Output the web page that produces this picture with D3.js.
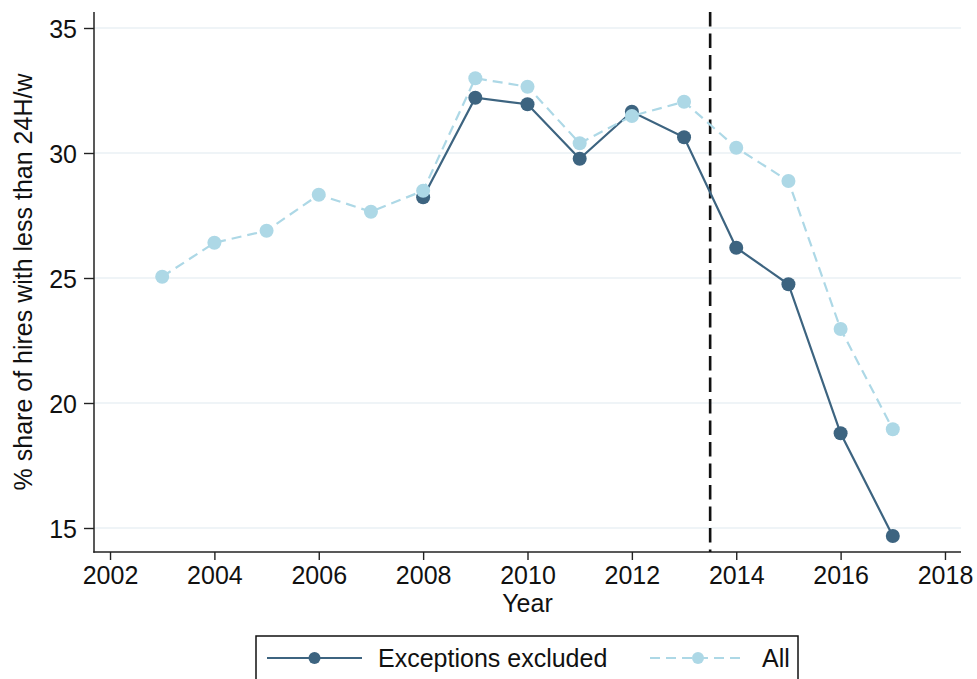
<!DOCTYPE html>
<html>
<head>
<meta charset="utf-8">
<script src="https://cdn.jsdelivr.net/npm/d3@7"></script>
<style>
  html, body { margin: 0; padding: 0; background: #fff; }
  svg { display: block; font-family: "Liberation Sans", Arial, Helvetica, sans-serif; }
</style>
</head>
<body>
<svg id="chart" width="977" height="679"></svg>
<script>
// ---- data ----
const yearsExcl = [2008, 2009, 2010, 2011, 2012, 2013, 2014, 2015, 2016, 2017];
const valuesExcl = [28.23, 32.21, 31.95, 29.77, 31.65, 30.63, 26.21, 24.75, 18.79, 14.68];
const yearsAll = [2003, 2004, 2005, 2006, 2007, 2008, 2009, 2010, 2011, 2012, 2013, 2014, 2015, 2016, 2017];
const valuesAll = [25.05, 26.41, 26.89, 28.33, 27.65, 28.49, 32.99, 32.65, 30.39, 31.48, 32.05, 30.21, 28.88, 22.96, 18.95];
const xTicks = [2002, 2004, 2006, 2008, 2010, 2012, 2014, 2016, 2018];
const yTicks = [15, 20, 25, 30, 35];
const reformYear = [2013.5];
const seriesNames = ["Exceptions excluded", "All"];
const xTitle = "Year";
const yTitle = "% share of hires with less than 24H/w";

(function () {
// ---- layout ----
const svg = d3.select("#chart");
const pL = 94, pR = 961, pT = 12, pB = 552;
const x = d3.scaleLinear().domain([2001.693, 2018.307]).range([pL, pR]);
const y = d3.scaleLinear().domain([14.04, 35.64]).range([pB, pT]);

const darkCol = "#3d6480";
const lightCol = "#add8e6";
const fontSize = 25;

// gridlines
svg.append("g").selectAll("line").data(yTicks).join("line")
  .attr("x1", pL).attr("x2", pR)
  .attr("y1", d => y(d)).attr("y2", d => y(d))
  .attr("stroke", "#eaf1f4").attr("stroke-width", 1.6);

// axes
const yAxis = d3.axisLeft(y).tickValues(yTicks).tickSize(10).tickPadding(7);
const gy = svg.append("g").attr("transform", `translate(${pL},0)`).call(yAxis);
const xAxis = d3.axisBottom(x).tickValues(xTicks).tickFormat(d3.format("d")).tickSize(8).tickPadding(6);
const gx = svg.append("g").attr("transform", `translate(0,${pB})`).call(xAxis);
[gx, gy].forEach(g => {
  g.select(".domain").remove();
  g.selectAll(".tick line").attr("stroke", "#222").attr("stroke-width", 1.4);
  g.selectAll(".tick text").attr("fill", "#111").style("font-size", fontSize + "px")
    .style("font-family", '"Liberation Sans", Arial, sans-serif');
});
gy.selectAll(".tick text").attr("dy", "0.36em");
gx.selectAll(".tick text").attr("dy", "0.71em");
// axis lines
svg.append("line").attr("x1", pL).attr("x2", pL).attr("y1", pT).attr("y2", pB + 0.7)
  .attr("stroke", "#222").attr("stroke-width", 1.5);
svg.append("line").attr("x1", pL - 0.7).attr("x2", pR).attr("y1", pB).attr("y2", pB)
  .attr("stroke", "#222").attr("stroke-width", 1.5);

// axis titles
svg.append("text").attr("x", (pL + pR) / 2).attr("y", 612)
  .attr("text-anchor", "middle").style("font-size", fontSize + "px").attr("fill", "#111").text(xTitle);
svg.append("text").attr("transform", `translate(32,${(pT + pB) / 2}) rotate(-90)`)
  .attr("text-anchor", "middle").style("font-size", fontSize + "px").attr("fill", "#111").text(yTitle);

// vertical reform line
svg.append("g").selectAll("line").data(reformYear).join("line")
  .attr("x1", d => x(d)).attr("x2", d => x(d)).attr("y1", pT).attr("y2", pB)
  .attr("stroke", "#111").attr("stroke-width", 2.6).attr("stroke-dasharray", "14.5,7");

const line = d3.line().x(d => x(d[0])).y(d => y(d[1]));
const excl = yearsExcl.map((yr, i) => [yr, valuesExcl[i]]);
const all = yearsAll.map((yr, i) => [yr, valuesAll[i]]);

// series 1: exceptions excluded
svg.append("path").datum(excl).attr("d", line).attr("fill", "none")
  .attr("stroke", darkCol).attr("stroke-width", 2.2);
svg.append("g").selectAll("circle").data(excl).join("circle")
  .attr("cx", d => x(d[0])).attr("cy", d => y(d[1])).attr("r", 7).attr("fill", darkCol);

// series 2: all
svg.append("path").datum(all).attr("d", line).attr("fill", "none")
  .attr("stroke", lightCol).attr("stroke-width", 2.2).attr("stroke-dasharray", "10,6");
svg.append("g").selectAll("circle").data(all).join("circle")
  .attr("cx", d => x(d[0])).attr("cy", d => y(d[1])).attr("r", 7).attr("fill", lightCol);

// legend
const lg = svg.append("g");
lg.append("rect").attr("x", 256).attr("y", 636).attr("width", 542).attr("height", 60)
  .attr("fill", "#fff").attr("stroke", "#111").attr("stroke-width", 1.5);
const legendItems = [
  { name: seriesNames[0], col: darkCol, dash: null, x0: 267, x1: 362, tx: 378 },
  { name: seriesNames[1], col: lightCol, dash: "10,6", x0: 650, x1: 746, tx: 762 }
];
legendItems.forEach(it => {
  lg.append("line").attr("x1", it.x0).attr("x2", it.x1).attr("y1", 658).attr("y2", 658)
    .attr("stroke", it.col).attr("stroke-width", 2.2).attr("stroke-dasharray", it.dash);
  lg.append("circle").attr("cx", (it.x0 + it.x1) / 2).attr("cy", 658).attr("r", 6).attr("fill", it.col);
  lg.append("text").attr("x", it.tx).attr("y", 667).style("font-size", fontSize + "px")
    .attr("fill", "#111").text(it.name);
});
})();
</script>
</body>
</html>
